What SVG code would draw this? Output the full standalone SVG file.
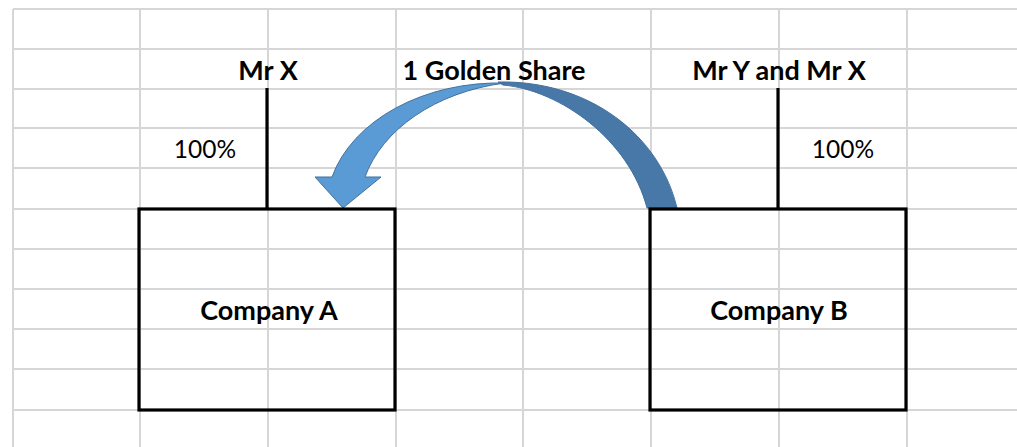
<svg xmlns="http://www.w3.org/2000/svg" width="1017" height="447" viewBox="0 0 1017 447">
<style>
.grid line{stroke:#d6d6d6;stroke-width:2}
.box{fill:none;stroke:#000;stroke-width:3.2}
.conn{stroke:#000;stroke-width:3.2}
.b{font-family:Lato,"Liberation Sans",sans-serif;font-weight:bold;font-size:27px;fill:#000;text-anchor:middle}
.r{font-family:Lato,"Liberation Sans",sans-serif;font-size:24.5px;fill:#000;text-anchor:middle}
</style>
<rect width="1017" height="447" fill="#fff"/>
<g class="grid">
<line x1="13" y1="9" x2="13" y2="447"/>
<line x1="140" y1="9" x2="140" y2="447"/>
<line x1="268" y1="9" x2="268" y2="447"/>
<line x1="396" y1="9" x2="396" y2="447"/>
<line x1="523" y1="9" x2="523" y2="447"/>
<line x1="651" y1="9" x2="651" y2="447"/>
<line x1="779" y1="9" x2="779" y2="447"/>
<line x1="907" y1="9" x2="907" y2="447"/>
<line x1="13" y1="9" x2="1017" y2="9"/>
<line x1="13" y1="49" x2="1017" y2="49"/>
<line x1="13" y1="89" x2="1017" y2="89"/>
<line x1="13" y1="128" x2="1017" y2="128"/>
<line x1="13" y1="168" x2="1017" y2="168"/>
<line x1="13" y1="209" x2="1017" y2="209"/>
<line x1="13" y1="249" x2="1017" y2="249"/>
<line x1="13" y1="289" x2="1017" y2="289"/>
<line x1="13" y1="329" x2="1017" y2="329"/>
<line x1="13" y1="369" x2="1017" y2="369"/>
<line x1="13" y1="410" x2="1017" y2="410"/>
</g>
<g id="connectors">
<line class="conn" x1="267" y1="88" x2="267" y2="209"/>
<line class="conn" x1="778" y1="88" x2="778" y2="209"/>
<g id="golden-share-arrow">
<path d="M498,82 C590,80 660,136 677,208 L647,208 C629.5,140 560,90 503,85 Z" fill="#4878a8" stroke="#41719c" stroke-width="1"/>
<path d="M315,177 L343,208 L381,177 L365,177 C382,130 435,92 505,83 A173,126 0 0 0 332,177 Z" fill="#5b9bd5" stroke="#41719c" stroke-width="1"/>
</g>
</g>
<g id="mr-x"><text class="b" x="268" y="80">Mr X</text><text class="r" x="205" y="158">100%</text></g>
<g id="golden-share"><text class="b" x="494" y="80">1 Golden Share</text></g>
<g id="mr-y-mr-x"><text class="b" x="779" y="80">Mr Y and Mr X</text><text class="r" x="843" y="158">100%</text></g>
<g id="company-a"><rect class="box" x="139" y="209" width="256" height="201"/><text class="b" x="269" y="320">Company A</text></g>
<g id="company-b"><rect class="box" x="650" y="209" width="256" height="201"/><text class="b" x="779" y="320">Company B</text></g>
</svg>
